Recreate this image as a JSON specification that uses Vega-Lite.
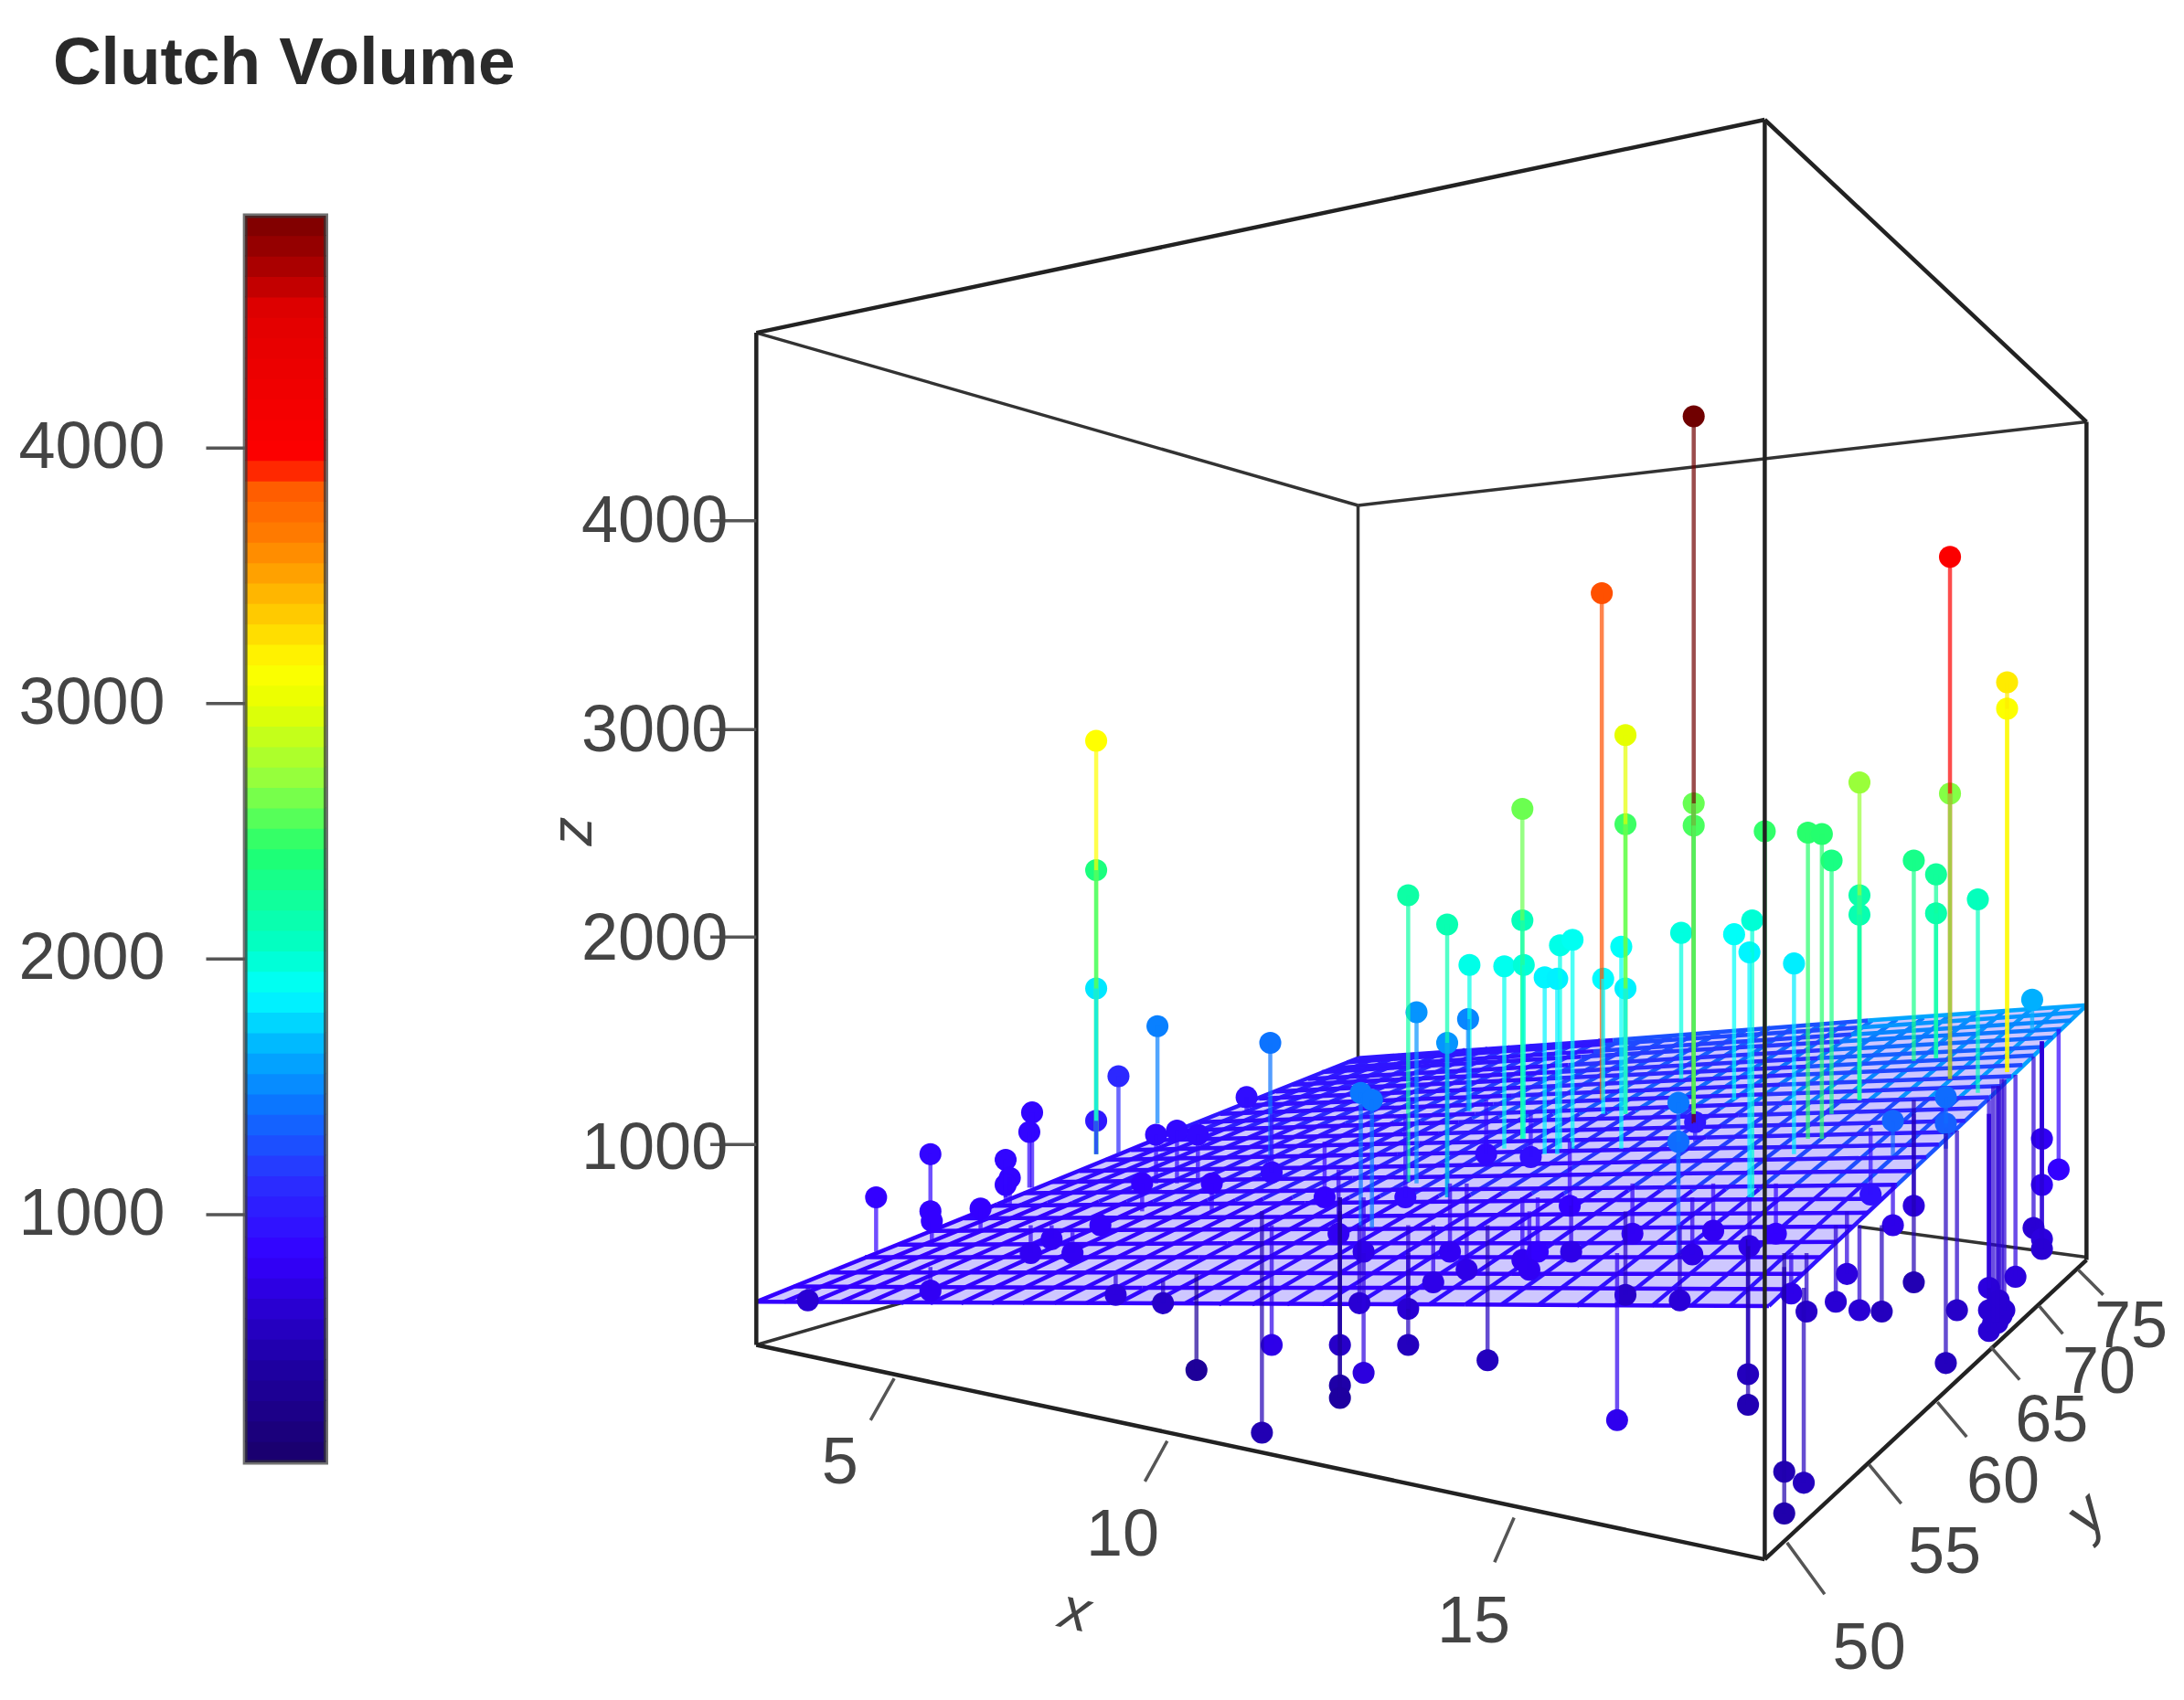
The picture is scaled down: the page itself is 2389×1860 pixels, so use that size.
{"$schema":"https://vega.github.io/schema/vega-lite/v6.json","width":2389,"height":1860,"padding":0,"autosize":{"type":"none"},"background":"white","config":{"view":{"stroke":null},"text":{"font":"Liberation Sans"}},"resolve":{"scale":{"y":"independent"}},
"layer":[
{"encoding":{},"layer":[
{"data":{"values":[{"px":975,"py":363,"px2":975,"py2":760},{"px":975,"py":363,"px2":543,"py2":239},{"px":975,"py":363,"px2":1498,"py2":303},{"px":543,"py":966,"px2":650,"py2":935},{"px":1498,"py":903,"px2":1334,"py2":881}]},"mark":{"type":"rule","color":"#333","strokeWidth":3.5},"encoding":{"x":{"field":"px","type":"quantitative","scale":{"domain":[0,1568],"nice":false,"zero":false},"axis":null},"y":{"field":"py","type":"quantitative","scale":{"domain":[1221,0],"nice":false,"zero":false},"axis":null},"x2":{"field":"px2"},"y2":{"field":"py2"}}},
{"data":{"values":[{"px":543,"top":935,"bottom":935},{"px":975,"top":760,"bottom":937},{"px":1270,"top":739,"bottom":938},{"px":1498,"top":722,"bottom":722}]},"mark":{"type":"area","color":"#3a20ff","opacity":0.25},"encoding":{"x":{"field":"px","type":"quantitative"},"y":{"field":"top","type":"quantitative"},"y2":{"field":"bottom"}}},
{"data":{"values":[
{"x0":543,"y0":935,"x1":716,"y1":865,"v":800},{"x0":716,"y0":865,"x1":845,"y1":812,"v":860},{"x0":845,"y0":812,"x1":975,"y1":760,"v":950},
{"x0":563,"y0":935,"x1":734,"y1":865,"v":804},{"x0":734,"y0":865,"x1":862,"y1":812,"v":873},{"x0":862,"y0":812,"x1":990,"y1":759,"v":970},
{"x0":584,"y0":935,"x1":752,"y1":864,"v":808},{"x0":752,"y0":864,"x1":879,"y1":811,"v":886},{"x0":879,"y0":811,"x1":1005,"y1":758,"v":990},
{"x0":604,"y0":935,"x1":770,"y1":864,"v":812},{"x0":770,"y0":864,"x1":895,"y1":810,"v":899},{"x0":895,"y0":810,"x1":1020,"y1":757,"v":1010},
{"x0":625,"y0":935,"x1":789,"y1":863,"v":816},{"x0":789,"y0":863,"x1":913,"y1":810,"v":912},{"x0":913,"y0":810,"x1":1036,"y1":756,"v":1030},
{"x0":647,"y0":936,"x1":809,"y1":863,"v":820},{"x0":809,"y0":863,"x1":931,"y1":809,"v":925},{"x0":931,"y0":809,"x1":1052,"y1":754,"v":1050},
{"x0":668,"y0":936,"x1":828,"y1":863,"v":824},{"x0":828,"y0":863,"x1":948,"y1":808,"v":938},{"x0":948,"y0":808,"x1":1068,"y1":753,"v":1070},
{"x0":690,"y0":936,"x1":848,"y1":862,"v":828},{"x0":848,"y0":862,"x1":966,"y1":807,"v":951},{"x0":966,"y0":807,"x1":1084,"y1":752,"v":1090},
{"x0":712,"y0":936,"x1":867,"y1":862,"v":832},{"x0":867,"y0":862,"x1":984,"y1":806,"v":964},{"x0":984,"y0":806,"x1":1100,"y1":751,"v":1110},
{"x0":734,"y0":936,"x1":887,"y1":862,"v":836},{"x0":887,"y0":862,"x1":1001,"y1":806,"v":977},{"x0":1001,"y0":806,"x1":1116,"y1":750,"v":1130},
{"x0":757,"y0":936,"x1":907,"y1":861,"v":840},{"x0":907,"y0":861,"x1":1020,"y1":805,"v":990},{"x0":1020,"y0":805,"x1":1132,"y1":749,"v":1150},
{"x0":780,"y0":936,"x1":928,"y1":860,"v":844},{"x0":928,"y0":860,"x1":1038,"y1":804,"v":1003},{"x0":1038,"y0":804,"x1":1149,"y1":747,"v":1170},
{"x0":803,"y0":936,"x1":948,"y1":860,"v":848},{"x0":948,"y0":860,"x1":1057,"y1":803,"v":1016},{"x0":1057,"y0":803,"x1":1166,"y1":746,"v":1190},
{"x0":827,"y0":936,"x1":969,"y1":860,"v":852},{"x0":969,"y0":860,"x1":1076,"y1":802,"v":1029},{"x0":1076,"y0":802,"x1":1183,"y1":745,"v":1210},
{"x0":851,"y0":936,"x1":991,"y1":859,"v":856},{"x0":991,"y0":859,"x1":1095,"y1":802,"v":1042},{"x0":1095,"y0":802,"x1":1200,"y1":744,"v":1230},
{"x0":875,"y0":937,"x1":1012,"y1":859,"v":860},{"x0":1012,"y0":859,"x1":1115,"y1":800,"v":1055},{"x0":1115,"y0":800,"x1":1218,"y1":742,"v":1250},
{"x0":899,"y0":937,"x1":1033,"y1":859,"v":864},{"x0":1033,"y0":859,"x1":1134,"y1":800,"v":1068},{"x0":1134,"y0":800,"x1":1235,"y1":741,"v":1270},
{"x0":924,"y0":937,"x1":1056,"y1":858,"v":868},{"x0":1056,"y0":858,"x1":1154,"y1":799,"v":1081},{"x0":1154,"y0":799,"x1":1253,"y1":740,"v":1290},
{"x0":949,"y0":937,"x1":1078,"y1":857,"v":872},{"x0":1078,"y0":857,"x1":1174,"y1":798,"v":1094},{"x0":1174,"y0":798,"x1":1271,"y1":738,"v":1310},
{"x0":974,"y0":937,"x1":1100,"y1":857,"v":876},{"x0":1100,"y0":857,"x1":1195,"y1":797,"v":1107},{"x0":1195,"y0":797,"x1":1289,"y1":737,"v":1330},
{"x0":1000,"y0":937,"x1":1123,"y1":857,"v":880},{"x0":1123,"y0":857,"x1":1215,"y1":796,"v":1120},{"x0":1215,"y0":796,"x1":1307,"y1":736,"v":1350},
{"x0":1026,"y0":937,"x1":1146,"y1":856,"v":884},{"x0":1146,"y0":856,"x1":1235,"y1":796,"v":1133},{"x0":1235,"y0":796,"x1":1325,"y1":735,"v":1370},
{"x0":1052,"y0":937,"x1":1169,"y1":855,"v":888},{"x0":1169,"y0":855,"x1":1256,"y1":794,"v":1146},{"x0":1256,"y0":794,"x1":1344,"y1":733,"v":1390},
{"x0":1078,"y0":937,"x1":1192,"y1":855,"v":892},{"x0":1192,"y0":855,"x1":1277,"y1":794,"v":1159},{"x0":1277,"y0":794,"x1":1362,"y1":732,"v":1410},
{"x0":1105,"y0":937,"x1":1215,"y1":855,"v":896},{"x0":1215,"y0":855,"x1":1298,"y1":793,"v":1172},{"x0":1298,"y0":793,"x1":1381,"y1":731,"v":1430},
{"x0":1132,"y0":938,"x1":1239,"y1":854,"v":900},{"x0":1239,"y0":854,"x1":1320,"y1":792,"v":1185},{"x0":1320,"y0":792,"x1":1400,"y1":729,"v":1450},
{"x0":1159,"y0":938,"x1":1263,"y1":854,"v":904},{"x0":1263,"y0":854,"x1":1341,"y1":791,"v":1198},{"x0":1341,"y0":791,"x1":1419,"y1":728,"v":1470},
{"x0":1186,"y0":938,"x1":1287,"y1":853,"v":908},{"x0":1287,"y0":853,"x1":1363,"y1":790,"v":1211},{"x0":1363,"y0":790,"x1":1439,"y1":726,"v":1490},
{"x0":1214,"y0":938,"x1":1312,"y1":853,"v":912},{"x0":1312,"y0":853,"x1":1385,"y1":789,"v":1224},{"x0":1385,"y0":789,"x1":1458,"y1":725,"v":1510},
{"x0":1242,"y0":938,"x1":1336,"y1":852,"v":916},{"x0":1336,"y0":852,"x1":1407,"y1":788,"v":1237},{"x0":1407,"y0":788,"x1":1478,"y1":724,"v":1530},
{"x0":1270,"y0":938,"x1":1361,"y1":852,"v":920},{"x0":1361,"y0":852,"x1":1430,"y1":787,"v":1250},{"x0":1430,"y0":787,"x1":1498,"y1":722,"v":1550},
{"x0":543,"y0":935,"x1":797,"y1":936,"v":790},{"x0":797,"y0":936,"x1":1052,"y1":937,"v":800},{"x0":1052,"y0":937,"x1":1270,"y1":938,"v":810},
{"x0":570,"y0":924,"x1":820,"y1":925,"v":796},{"x0":820,"y0":925,"x1":1069,"y1":925,"v":801},{"x0":1069,"y0":925,"x1":1283,"y1":926,"v":811},
{"x0":596,"y0":914,"x1":841,"y1":914,"v":802},{"x0":841,"y0":914,"x1":1085,"y1":915,"v":803},{"x0":1085,"y0":915,"x1":1295,"y1":915,"v":815},
{"x0":621,"y0":903,"x1":861,"y1":903,"v":808},{"x0":861,"y0":903,"x1":1101,"y1":903,"v":806},{"x0":1101,"y0":903,"x1":1307,"y1":903,"v":821},
{"x0":645,"y0":894,"x1":881,"y1":893,"v":814},{"x0":881,"y0":893,"x1":1116,"y1":893,"v":811},{"x0":1116,"y0":893,"x1":1318,"y1":892,"v":829},
{"x0":669,"y0":884,"x1":900,"y1":883,"v":820},{"x0":900,"y0":883,"x1":1132,"y1":882,"v":818},{"x0":1132,"y0":882,"x1":1330,"y1":881,"v":840},
{"x0":692,"y0":875,"x1":919,"y1":874,"v":826},{"x0":919,"y0":874,"x1":1146,"y1":872,"v":825},{"x0":1146,"y0":872,"x1":1341,"y1":871,"v":853},
{"x0":714,"y0":866,"x1":937,"y1":864,"v":832},{"x0":937,"y0":864,"x1":1161,"y1":862,"v":834},{"x0":1161,"y0":862,"x1":1352,"y1":861,"v":869},
{"x0":735,"y0":857,"x1":954,"y1":855,"v":838},{"x0":954,"y0":855,"x1":1174,"y1":853,"v":845},{"x0":1174,"y0":853,"x1":1362,"y1":851,"v":887},
{"x0":755,"y0":849,"x1":971,"y1":846,"v":844},{"x0":971,"y0":846,"x1":1187,"y1":843,"v":857},{"x0":1187,"y0":843,"x1":1372,"y1":841,"v":907},
{"x0":775,"y0":841,"x1":988,"y1":838,"v":850},{"x0":988,"y0":838,"x1":1201,"y1":834,"v":870},{"x0":1201,"y0":834,"x1":1383,"y1":831,"v":930},
{"x0":794,"y0":833,"x1":1003,"y1":829,"v":856},{"x0":1003,"y0":829,"x1":1213,"y1":825,"v":885},{"x0":1213,"y0":825,"x1":1392,"y1":822,"v":955},
{"x0":812,"y0":826,"x1":1019,"y1":821,"v":862},{"x0":1019,"y0":821,"x1":1225,"y1":817,"v":901},{"x0":1225,"y0":817,"x1":1402,"y1":813,"v":983},
{"x0":829,"y0":819,"x1":1033,"y1":814,"v":868},{"x0":1033,"y0":814,"x1":1236,"y1":809,"v":918},{"x0":1236,"y0":809,"x1":1411,"y1":805,"v":1013},
{"x0":846,"y0":812,"x1":1047,"y1":806,"v":874},{"x0":1047,"y0":806,"x1":1248,"y1":801,"v":937},{"x0":1248,"y0":801,"x1":1420,"y1":796,"v":1045},
{"x0":861,"y0":806,"x1":1059,"y1":800,"v":880},{"x0":1059,"y0":800,"x1":1258,"y1":793,"v":958},{"x0":1258,"y0":793,"x1":1428,"y1":788,"v":1080},
{"x0":876,"y0":800,"x1":1072,"y1":793,"v":886},{"x0":1072,"y0":793,"x1":1268,"y1":786,"v":979},{"x0":1268,"y0":786,"x1":1436,"y1":780,"v":1117},
{"x0":891,"y0":794,"x1":1085,"y1":787,"v":892},{"x0":1085,"y0":787,"x1":1278,"y1":779,"v":1002},{"x0":1278,"y0":779,"x1":1444,"y1":773,"v":1157},
{"x0":904,"y0":789,"x1":1096,"y1":781,"v":898},{"x0":1096,"y0":781,"x1":1288,"y1":772,"v":1027},{"x0":1288,"y0":772,"x1":1452,"y1":765,"v":1199},
{"x0":916,"y0":784,"x1":1106,"y1":775,"v":904},{"x0":1106,"y0":775,"x1":1297,"y1":766,"v":1053},{"x0":1297,"y0":766,"x1":1460,"y1":758,"v":1243},
{"x0":928,"y0":779,"x1":1117,"y1":770,"v":910},{"x0":1117,"y0":770,"x1":1305,"y1":760,"v":1080},{"x0":1305,"y0":760,"x1":1467,"y1":752,"v":1290},
{"x0":939,"y0":775,"x1":1126,"y1":765,"v":916},{"x0":1126,"y0":765,"x1":1314,"y1":754,"v":1109},{"x0":1314,"y0":754,"x1":1474,"y1":745,"v":1339},
{"x0":949,"y0":770,"x1":1135,"y1":759,"v":922},{"x0":1135,"y0":759,"x1":1321,"y1":748,"v":1139},{"x0":1321,"y0":748,"x1":1480,"y1":739,"v":1391},
{"x0":959,"y0":767,"x1":1144,"y1":755,"v":928},{"x0":1144,"y0":755,"x1":1329,"y1":743,"v":1170},{"x0":1329,"y0":743,"x1":1487,"y1":733,"v":1445},
{"x0":967,"y0":763,"x1":1151,"y1":750,"v":934},{"x0":1151,"y0":750,"x1":1335,"y1":738,"v":1203},{"x0":1335,"y0":738,"x1":1493,"y1":727,"v":1501},
{"x0":975,"y0":760,"x1":1158,"y1":747,"v":940},{"x0":1158,"y0":747,"x1":1341,"y1":733,"v":1238},{"x0":1341,"y0":733,"x1":1498,"y1":722,"v":1560}
]},"mark":{"type":"rule","strokeWidth":4.5},"encoding":{"x":{"field":"x0","type":"quantitative"},"y":{"field":"y0","type":"quantitative"},"x2":{"field":"x1"},"y2":{"field":"y1"},"color":{"field":"v","type":"quantitative","legend":null,"scale":{"domain":[30,400,800,1100,1400,1600,1830,2000,2380,2650,2950,3100,3350,3600,3860,3880,4500,4700,4910],"range":["#1a0070","#1f00a8","#3300ff","#2a30ff","#0a78ff","#00b0ff","#00ffff","#00ffc8","#20ff70","#90ff40","#e6ff00","#ffff00","#ffc000","#ff8000","#ff5000","#ff0000","#e00000","#a00000","#700000"],"interpolate":"rgb"}}}},
{"data":{"name":"pts","values":[
{"px":1216,"py":299,"end":807,"v":4910},{"px":1150,"py":426,"end":790,"v":3860},{"px":1400,"py":400,"end":775,"v":3950},{"px":1441,"py":490,"end":770,"v":3180},{"px":1441,"py":509,"end":770,"v":3080},{"px":1167,"py":528,"end":800,"v":2950},{"px":1335,"py":562,"end":790,"v":2680},{"px":1093,"py":581,"end":818,"v":2560},{"px":1400,"py":570,"end":775,"v":2620},{"px":1216,"py":577,"end":800,"v":2550},{"px":1216,"py":593,"end":800,"v":2480},{"px":1167,"py":592,"end":800,"v":2450},{"px":1267,"py":597,"end":810,"v":2420},{"px":1298,"py":598,"end":818,"v":2400},{"px":1308,"py":599,"end":818,"v":2390},{"px":1315,"py":618,"end":800,"v":2300},{"px":1374,"py":618,"end":762,"v":2270},{"px":1390,"py":628,"end":760,"v":2200},{"px":1335,"py":643,"end":790,"v":2130},{"px":1335,"py":657,"end":790,"v":2100},{"px":1390,"py":656,"end":760,"v":2120},{"px":1420,"py":646,"end":785,"v":2050},{"px":1011,"py":643,"end":849,"v":2150},{"px":1039,"py":664,"end":860,"v":2100},{"px":1093,"py":661,"end":818,"v":2060},{"px":1055,"py":693,"end":798,"v":1900},{"px":1080,"py":694,"end":825,"v":1880},{"px":1094,"py":693,"end":818,"v":1950},{"px":1120,"py":679,"end":825,"v":1900},{"px":1129,"py":675,"end":825,"v":1870},{"px":1109,"py":702,"end":829,"v":1800},{"px":1118,"py":703,"end":829,"v":1790},{"px":1164,"py":680,"end":825,"v":1850},{"px":1151,"py":703,"end":800,"v":1820},{"px":1167,"py":710,"end":800,"v":1790},{"px":1207,"py":670,"end":775,"v":1930},{"px":1245,"py":671,"end":790,"v":1850},{"px":1258,"py":661,"end":860,"v":1960},{"px":1256,"py":684,"end":860,"v":1800},{"px":1288,"py":692,"end":829,"v":1780},
{"px":787,"py":532,"end":829,"v":3100},{"px":787,"py":625,"end":829,"v":2320},{"px":787,"py":710,"end":829,"v":1760},{"px":787,"py":805,"end":829,"v":950},{"px":831,"py":737,"end":807,"v":1430},{"px":912,"py":749,"end":830,"v":1380},{"px":803,"py":773,"end":829,"v":1050},{"px":741,"py":799,"end":853,"v":830},{"px":739,"py":813,"end":853,"v":830},{"px":722,"py":833,"end":860,"v":830},{"px":725,"py":846,"end":865,"v":820},{"px":722,"py":851,"end":865,"v":820},{"px":668,"py":829,"end":865,"v":830},{"px":629,"py":860,"end":899,"v":800},{"px":668,"py":870,"end":885,"v":800},{"px":669,"py":877,"end":895,"v":800},{"px":704,"py":868,"end":885,"v":800},{"px":1017,"py":727,"end":850,"v":1500},{"px":1054,"py":732,"end":798,"v":1450},{"px":1039,"py":749,"end":860,"v":1500},{"px":977,"py":785,"end":882,"v":1400},{"px":985,"py":790,"end":882,"v":1400},{"px":1205,"py":792,"end":850,"v":1400},{"px":1205,"py":820,"end":900,"v":1350},{"px":1217,"py":806,"end":820,"v":950},{"px":895,"py":788,"end":800,"v":880},{"px":1459,"py":718,"end":740,"v":1600},{"px":1397,"py":788,"end":810,"v":1350},{"px":1397,"py":807,"end":825,"v":1300},{"px":1359,"py":805,"end":830,"v":1320},
{"px":1093,"py":905,"end":860,"v":750},{"px":1104,"py":899,"end":860,"v":800},{"px":1098,"py":912,"end":870,"v":750},{"px":1053,"py":912,"end":850,"v":700},{"px":1041,"py":899,"end":850,"v":750},{"px":1029,"py":921,"end":880,"v":700},{"px":1128,"py":899,"end":860,"v":700},{"px":1127,"py":866,"end":820,"v":800},{"px":1172,"py":886,"end":850,"v":750},{"px":1215,"py":901,"end":860,"v":700},{"px":1230,"py":884,"end":850,"v":750},{"px":1009,"py":860,"end":800,"v":850},{"px":1067,"py":829,"end":790,"v":850},{"px":1099,"py":831,"end":800,"v":880},{"px":961,"py":886,"end":840,"v":750},{"px":979,"py":899,"end":860,"v":700},{"px":913,"py":842,"end":800,"v":850},{"px":951,"py":860,"end":820,"v":800},{"px":830,"py":815,"end":850,"v":850},{"px":845,"py":812,"end":850,"v":850},{"px":860,"py":815,"end":850,"v":850},{"px":740,"py":900,"end":880,"v":750},{"px":755,"py":890,"end":880,"v":760},{"px":770,"py":900,"end":885,"v":750},{"px":790,"py":880,"end":880,"v":780},{"px":820,"py":850,"end":870,"v":800},{"px":870,"py":850,"end":870,"v":800},
{"px":580,"py":934,"end":925,"v":600},{"px":668,"py":927,"end":910,"v":750},{"px":801,"py":930,"end":915,"v":650},{"px":835,"py":936,"end":920,"v":550},{"px":859,"py":984,"end":915,"v":300},{"px":913,"py":966,"end":880,"v":700},{"px":906,"py":1029,"end":870,"v":450},{"px":962,"py":966,"end":860,"v":550},{"px":962,"py":995,"end":860,"v":400},{"px":962,"py":1004,"end":870,"v":350},{"px":979,"py":986,"end":900,"v":650},{"px":976,"py":936,"end":880,"v":600},{"px":1011,"py":966,"end":900,"v":500},{"px":1011,"py":940,"end":880,"v":600},{"px":1068,"py":977,"end":880,"v":500},{"px":1161,"py":1020,"end":900,"v":720},{"px":1167,"py":930,"end":870,"v":550},{"px":1206,"py":934,"end":880,"v":620},{"px":1255,"py":987,"end":890,"v":500},{"px":1255,"py":1009,"end":890,"v":450},{"px":1256,"py":895,"end":860,"v":700},{"px":1275,"py":886,"end":850,"v":800},{"px":1286,"py":929,"end":900,"v":700},{"px":1297,"py":942,"end":900,"v":550},{"px":1318,"py":935,"end":880,"v":600},{"px":1326,"py":915,"end":870,"v":650},{"px":1335,"py":941,"end":880,"v":600},{"px":1351,"py":942,"end":880,"v":500},{"px":1359,"py":880,"end":850,"v":700},{"px":1374,"py":866,"end":800,"v":650},{"px":1374,"py":921,"end":790,"v":450},{"px":1343,"py":858,"end":810,"v":900},{"px":1405,"py":941,"end":812,"v":550},{"px":1397,"py":979,"end":814,"v":500},{"px":1428,"py":956,"end":800,"v":600},{"px":1428,"py":941,"end":800,"v":600},{"px":1439,"py":941,"end":775,"v":600},{"px":1428,"py":925,"end":790,"v":650},{"px":1435,"py":934,"end":780,"v":600},{"px":1431,"py":950,"end":780,"v":600},{"px":1434,"py":950,"end":780,"v":600},{"px":1437,"py":945,"end":775,"v":600},{"px":1447,"py":917,"end":772,"v":650},{"px":1466,"py":818,"end":748,"v":750},{"px":1478,"py":840,"end":739,"v":800},{"px":1466,"py":851,"end":748,"v":750},{"px":1460,"py":882,"end":759,"v":600},{"px":1466,"py":890,"end":748,"v":650},{"px":1466,"py":897,"end":748,"v":600},{"px":1281,"py":1057,"end":910,"v":450},{"px":1281,"py":1087,"end":900,"v":420},{"px":1295,"py":1065,"end":925,"v":500}
]},"mark":{"type":"circle","opacity":1},"encoding":{"x":{"field":"px","type":"quantitative"},"y":{"field":"py","type":"quantitative"},"size":{"value":580},"color":{"field":"v","type":"quantitative"}}},
{"data":{"name":"pts"},"mark":{"type":"rule","strokeWidth":4.5,"opacity":0.7},"encoding":{"x":{"field":"px","type":"quantitative"},"y":{"field":"py","type":"quantitative"},"y2":{"field":"end"},"color":{"field":"v","type":"quantitative"}}},
{"data":{"values":[{"px":543,"py":239,"px2":1267,"py2":86},{"px":1267,"py":86,"px2":1498,"py2":303},{"px":1267,"py":86,"px2":1267,"py2":1120},{"px":543,"py":239,"px2":543,"py2":966},{"px":1498,"py":303,"px2":1498,"py2":905},{"px":543,"py":966,"px2":1267,"py2":1120},{"px":1267,"py":1120,"px2":1498,"py2":905}]},"mark":{"type":"rule","color":"#222","strokeWidth":4.5},"encoding":{"x":{"field":"px","type":"quantitative"},"y":{"field":"py","type":"quantitative"},"x2":{"field":"px2"},"y2":{"field":"py2"}}},
{"data":{"values":[{"px":510,"py":374,"px2":543,"py2":374},{"px":510,"py":524,"px2":543,"py2":524},{"px":510,"py":673,"px2":543,"py2":673},{"px":510,"py":822,"px2":543,"py2":822},{"px":642,"py":990,"px2":625,"py2":1020},{"px":838,"py":1035,"px2":822,"py2":1064},{"px":1087,"py":1090,"px2":1073,"py2":1122},{"px":1283,"py":1108,"px2":1310,"py2":1145},{"px":1342,"py":1052,"px2":1365,"py2":1080},{"px":1391,"py":1007,"px2":1412,"py2":1032},{"px":1429,"py":967,"px2":1450,"py2":991},{"px":1464,"py":938,"px2":1481,"py2":958},{"px":1492,"py":912,"px2":1510,"py2":930}]},"mark":{"type":"rule","color":"#555","strokeWidth":3.5},"encoding":{"x":{"field":"px","type":"quantitative"},"y":{"field":"py","type":"quantitative"},"x2":{"field":"px2"},"y2":{"field":"py2"}}},
{"data":{"values":[{"t":"4000","px":470,"py":375},{"t":"3000","px":470,"py":525},{"t":"2000","px":470,"py":675},{"t":"1000","px":470,"py":825},{"t":"5","px":603,"py":1051},{"t":"10","px":806,"py":1103},{"t":"15","px":1058,"py":1165},{"t":"50","px":1342,"py":1184},{"t":"55","px":1396,"py":1115},{"t":"60","px":1438,"py":1065},{"t":"65","px":1473,"py":1021},{"t":"70","px":1507,"py":986},{"t":"75","px":1530,"py":953}]},"mark":{"type":"text","fontSize":72,"color":"#444","align":"center","baseline":"middle","font":"Liberation Sans"},"encoding":{"x":{"field":"px","type":"quantitative"},"y":{"field":"py","type":"quantitative"},"text":{"field":"t"}}},
{"data":{"values":[{"t":"x","px":772,"py":1158,"ang":12},{"t":"y","px":1498,"py":1088,"ang":-45},{"t":"z","px":412,"py":597,"ang":-90}]},"mark":{"type":"text","fontSize":64,"fontStyle":"italic","color":"#444","align":"center","baseline":"middle","font":"Liberation Sans"},"encoding":{"x":{"field":"px","type":"quantitative"},"y":{"field":"py","type":"quantitative"},"text":{"field":"t"},"angle":{"field":"ang","type":"quantitative","scale":null}}},
{"data":{"values":[{"t":"Clutch Volume","px":38,"py":46}]},"mark":{"type":"text","fontSize":73,"fontWeight":"bold","color":"#2a2a2a","align":"left","baseline":"middle","font":"Liberation Sans"},"encoding":{"x":{"field":"px","type":"quantitative"},"y":{"field":"py","type":"quantitative"},"text":{"field":"t"}}}
]},
{"encoding":{},"layer":[
{"data":{"values":[{"z":30,"z2":115},{"z":110,"z2":195},{"z":190,"z2":275},{"z":270,"z2":355},{"z":350,"z2":435},{"z":430,"z2":515},{"z":510,"z2":595},{"z":590,"z2":675},{"z":670,"z2":755},{"z":750,"z2":835},{"z":830,"z2":915},{"z":910,"z2":995},{"z":990,"z2":1075},{"z":1070,"z2":1155},{"z":1150,"z2":1235},{"z":1230,"z2":1315},{"z":1310,"z2":1395},{"z":1390,"z2":1475},{"z":1470,"z2":1555},{"z":1550,"z2":1635},{"z":1630,"z2":1715},{"z":1710,"z2":1795},{"z":1790,"z2":1875},{"z":1870,"z2":1955},{"z":1950,"z2":2035},{"z":2030,"z2":2115},{"z":2110,"z2":2195},{"z":2190,"z2":2275},{"z":2270,"z2":2355},{"z":2350,"z2":2435},{"z":2430,"z2":2515},{"z":2510,"z2":2595},{"z":2590,"z2":2675},{"z":2670,"z2":2755},{"z":2750,"z2":2835},{"z":2830,"z2":2915},{"z":2910,"z2":2995},{"z":2990,"z2":3075},{"z":3070,"z2":3155},{"z":3150,"z2":3235},{"z":3230,"z2":3315},{"z":3310,"z2":3395},{"z":3390,"z2":3475},{"z":3470,"z2":3555},{"z":3550,"z2":3635},{"z":3630,"z2":3715},{"z":3710,"z2":3795},{"z":3790,"z2":3875},{"z":3870,"z2":3955},{"z":3950,"z2":4035},{"z":4030,"z2":4115},{"z":4110,"z2":4195},{"z":4190,"z2":4275},{"z":4270,"z2":4355},{"z":4350,"z2":4435},{"z":4430,"z2":4515},{"z":4510,"z2":4595},{"z":4590,"z2":4675},{"z":4670,"z2":4755},{"z":4750,"z2":4835},{"z":4830,"z2":4910}]},"mark":{"type":"rect"},"encoding":{"x":{"datum":176,"type":"quantitative"},"x2":{"datum":234},"y":{"field":"z","type":"quantitative","scale":{"domain":[30,4910],"range":[1600,236],"nice":false,"zero":false},"axis":null},"y2":{"field":"z2"},"color":{"field":"z","type":"quantitative"}}},
{"data":{"values":[{"z":30,"z2":4910}]},"mark":{"type":"rect","fill":null,"stroke":"#333","strokeWidth":5,"strokeOpacity":0.7},"encoding":{"x":{"datum":176,"type":"quantitative"},"x2":{"datum":234},"y":{"field":"z","type":"quantitative"},"y2":{"field":"z2"}}},
{"data":{"values":[{"z":1000},{"z":2000},{"z":3000},{"z":4000}]},"mark":{"type":"rule","color":"#555","strokeWidth":3.5},"encoding":{"x":{"datum":148,"type":"quantitative"},"x2":{"datum":176},"y":{"field":"z","type":"quantitative"}}},
{"data":{"values":[{"z":1000},{"z":2000},{"z":3000},{"z":4000}]},"mark":{"type":"text","fontSize":72,"color":"#444","align":"center","baseline":"middle","font":"Liberation Sans"},"encoding":{"x":{"datum":66,"type":"quantitative"},"y":{"field":"z","type":"quantitative"},"text":{"field":"z","type":"quantitative","format":"d"}}}
]}
]}
